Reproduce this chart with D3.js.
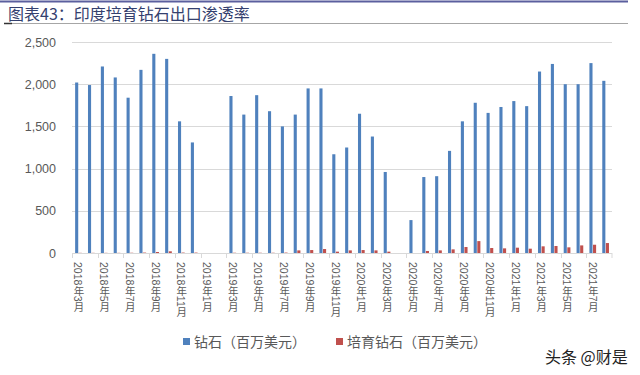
<!DOCTYPE html>
<html>
<head>
<meta charset="utf-8">
<script src="https://cdn.jsdelivr.net/npm/d3@7"></script>
<style>
  body { margin: 0; background: #fff; }
  svg { display: block; font-family: "Liberation Sans", "Noto Sans CJK SC", sans-serif; }
</style>
</head>
<body>
<div id="chart"></div>
<script>
// months on the x axis
var months = [
  "2018年3月","2018年4月","2018年5月","2018年6月","2018年7月","2018年8月","2018年9月","2018年10月","2018年11月","2018年12月",
  "2019年1月","2019年2月","2019年3月","2019年4月","2019年5月","2019年6月","2019年7月","2019年8月","2019年9月","2019年10月","2019年11月","2019年12月",
  "2020年1月","2020年2月","2020年3月","2020年4月","2020年5月","2020年6月","2020年7月","2020年8月","2020年9月","2020年10月","2020年11月","2020年12月",
  "2021年1月","2021年2月","2021年3月","2021年4月","2021年5月","2021年6月","2021年7月","2021年8月"
];
// 钻石 exports, million USD
var diamond = [
  2020,1990,2210,2080,1840,2170,2360,2300,1560,1310,
  0,0,1860,1640,1870,1680,1500,1640,1950,1950,1170,1250,
  1650,1380,960,0,390,900,910,1210,1560,1780,1660,1730,
  1800,1740,2150,2240,2000,2000,2250,2040
];
// 培育钻石 exports, million USD
var labGrown = [
  2,2,2,2,3,5,12,20,5,5,
  0,0,3,3,3,3,5,31,35,47,16,31,
  35,31,16,0,0,24,31,43,71,141,59,55,
  63,51,79,83,67,90,98,118
];
var yTicks = [0, 500, 1000, 1500, 2000, 2500];
var seriesNames = ["钻石（百万美元）", "培育钻石（百万美元）"];
var seriesColors = ["#4f81bd", "#c0504d"];

var W = 640, H = 375;
var svg = d3.select("#chart").append("svg")
  .attr("width", W).attr("height", H);

//title block
svg.append("line").attr("x1", 0).attr("x2", 628).attr("y1", 1.5).attr("y2", 1.5)
  .attr("stroke", "#5b5f9e").attr("stroke-width", 2);
svg.append("line").attr("x1", 4).attr("x2", 628).attr("y1", 23.5).attr("y2", 23.5)
  .attr("stroke", "#a6a6a6").attr("stroke-width", 1);
svg.append("line").attr("x1", 4).attr("x2", 12).attr("y1", 23.5).attr("y2", 23.5)
  .attr("stroke", "#333").attr("stroke-width", 1.5);
svg.append("text")
  .attr("x", 8).attr("y", 20)
  .style("font-family", "'Noto Sans CJK SC', sans-serif")
  .style("font-size", "16px")
  .attr("fill", "#34406e")
  .text("图表43：印度培育钻石出口渗透率");

var x = d3.scaleBand().domain(months).range([72, 612]).padding(0);
var y = d3.scaleLinear().domain([0, 2500]).range([253, 42]);

//gridlines
svg.append("g").selectAll("line").data(yTicks.slice(1)).enter().append("line")
  .attr("x1", 72).attr("x2", 612)
  .attr("y1", function(d){ return Math.round(y(d)) + 0.5; })
  .attr("y2", function(d){ return Math.round(y(d)) + 0.5; })
  .attr("stroke", "#d9d9d9");

//y labels
svg.append("g").selectAll("text").data(yTicks).enter().append("text")
  .attr("x", 56).attr("y", function(d){ return y(d) + 4.5; })
  .attr("text-anchor", "end")
  .style("font-size", "12.5px")
  .attr("fill", "#595959")
  .text(d3.format(","));

//bars
var bw = x.bandwidth();
svg.append("g").selectAll("rect").data(diamond).enter().append("rect")
  .attr("x", function(d, i){ return x(months[i]) + bw/2 - 3.3; })
  .attr("width", 3.1)
  .attr("y", function(d){ return y(d); })
  .attr("height", function(d){ return y(0) - y(d); })
  .attr("fill", seriesColors[0]);
svg.append("g").selectAll("rect").data(labGrown).enter().append("rect")
  .attr("x", function(d, i){ return x(months[i]) + bw/2 + 0.3; })
  .attr("width", 3.1)
  .attr("y", function(d){ return y(d); })
  .attr("height", function(d){ return y(0) - y(d); })
  .attr("fill", seriesColors[1]);

//x axis line + ticks every 2 months
svg.append("line").attr("x1", 72).attr("x2", 612).attr("y1", 253.5).attr("y2", 253.5)
  .attr("stroke", "#d9d9d9");
var tickMonths = months.filter(function(d, i){ return i % 2 === 0; });
svg.append("g").selectAll("line").data(tickMonths.concat(["end"])).enter().append("line")
  .attr("x1", function(d){ return d === "end" ? 612 : Math.round(x(d)) + 0.5; })
  .attr("x2", function(d){ return d === "end" ? 612 : Math.round(x(d)) + 0.5; })
  .attr("y1", 253).attr("y2", 258)
  .attr("stroke", "#d9d9d9");

//x labels, vertical (cjk upright, digits sideways)
svg.append("g").selectAll("text").data(tickMonths).enter().append("text")
  .attr("x", function(d){ return x(d) + bw/2; })
  .attr("y", 262)
  .style("writing-mode", "vertical-rl")
  .style("text-orientation", "mixed")
  .style("font-size", "10.5px")
  .style("font-family", "'Liberation Sans', 'Noto Sans CJK SC', sans-serif")
  .attr("fill", "#595959")
  .text(function(d){ return d; });

//legend
var legendX = [183, 336];
var lg = svg.append("g").selectAll("g").data(seriesNames).enter().append("g")
  .attr("transform", function(d, i){ return "translate(" + legendX[i] + ",338)"; });
lg.append("rect").attr("width", 7).attr("height", 7)
  .attr("fill", function(d, i){ return seriesColors[i]; });
lg.append("text").attr("x", 11).attr("y", 8.5)
  .style("font-family", "'Noto Sans CJK SC', sans-serif")
  .style("font-size", "14px")
  .attr("fill", "#595959")
  .text(function(d){ return d; });

//watermark
svg.append("text").attr("x", 545).attr("y", 363)
  .style("font-family", "'Noto Sans CJK SC', sans-serif")
  .style("font-size", "16px")
  .attr("fill", "#222")
  .text("头条 @财是");
</script>
</body>
</html>
